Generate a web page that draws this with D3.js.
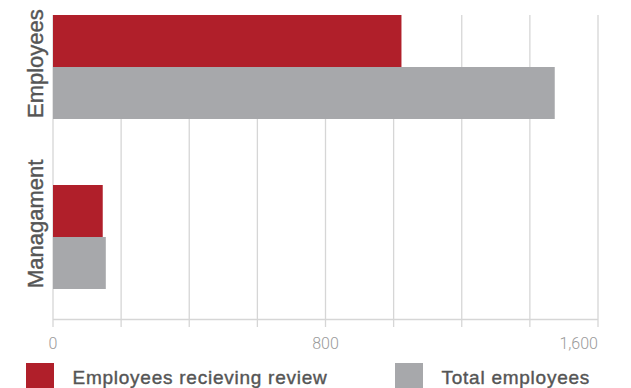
<!DOCTYPE html>
<html>
<head>
<meta charset="utf-8">
<script src="https://cdn.jsdelivr.net/npm/d3@7"></script>
<style>
  html, body { margin: 0; padding: 0; background: #fff; }
  svg { display: block; }
</style>
</head>
<body>
<svg id="chart" width="631" height="388"></svg>
<script>
// Review coverage by staff group
const categories = ["Employees", "Managament"];
const seriesNames = ["Employees recieving review", "Total employees"];
const reviewed = [1023, 146];
const totals = [1473, 155];
const tickValues = [0, 800, 1600];
const gridValues = [0, 200, 400, 600, 800, 1000, 1200, 1400, 1600];

const colors = ["#b01f2a", "#a7a8ab"];
const svg = d3.select("#chart");

const x = d3.scaleLinear().domain([0, 1600]).range([53, 598]);
const y0 = d3.scaleBand().domain(categories).range([-18, 322]);
const groupH = 104;
const y1 = d3.scaleBand().domain(seriesNames).range([0, groupH]);

const rows = categories.map((c, i) => ({ cat: c, values: [reviewed[i], totals[i]] }));

// vertical gridlines
svg.append("g").selectAll("line").data(gridValues).join("line")
  .attr("x1", d => x(d)).attr("x2", d => x(d))
  .attr("y1", 15).attr("y2", 327)
  .attr("stroke", "#d6d6d6").attr("stroke-width", 1.3);

// bottom axis line
svg.append("line")
  .attr("x1", x(0)).attr("x2", x(1600))
  .attr("y1", 319.5).attr("y2", 319.5)
  .attr("stroke", "#d6d6d6").attr("stroke-width", 1.5);

// bars
const groups = svg.append("g").selectAll("g").data(rows).join("g")
  .attr("transform", d => `translate(0,${y0(d.cat) + y0.bandwidth() / 2 - groupH / 2})`);
groups.selectAll("rect").data(d => d.values.map((v, j) => ({ v, s: seriesNames[j], j })))
  .join("rect")
  .attr("x", x(0))
  .attr("y", d => y1(d.s))
  .attr("width", d => x(d.v) - x(0))
  .attr("height", y1.bandwidth())
  .attr("fill", d => colors[d.j]);

// category labels, rotated, starting at the bottom of each bar group
groups.append("text")
  .attr("transform", `translate(43,${groupH - 1}) rotate(-90)`)
  .attr("text-anchor", "start")
  .attr("font-family", "'Liberation Sans', Arial, sans-serif")
  .attr("font-size", 22)
  .attr("fill", "#555")
  .attr("stroke", "#555")
  .attr("stroke-width", 0.4)
  .text(d => d.cat);

// tick labels
const fmt = d3.format(",");
svg.append("g").selectAll("text").data(tickValues).join("text")
  .attr("x", d => x(d))
  .attr("y", 348.5)
  .attr("text-anchor", (d, i) => i === tickValues.length - 1 ? "end" : "middle")
  .attr("font-family", "Roboto, 'Liberation Sans', sans-serif")
  .attr("font-weight", 300)
  .attr("font-size", 16)
  .attr("fill", "#9a9a9a")
  .text(d => fmt(d));

// legend
const legendX = [26, 395];
const legend = svg.append("g").selectAll("g").data(seriesNames).join("g")
  .attr("transform", (d, i) => `translate(${legendX[i]},363)`);
legend.append("rect")
  .attr("width", 28).attr("height", 28)
  .attr("fill", (d, i) => colors[i]);
legend.append("text")
  .attr("x", 46.5).attr("y", 20.5)
  .attr("font-family", "'Liberation Sans', Arial, sans-serif")
  .attr("font-size", 19)
  .attr("letter-spacing", 0.75)
  .attr("fill", "#555")
  .attr("stroke", "#555")
  .attr("stroke-width", 0.4)
  .text(d => d);
</script>
</body>
</html>
